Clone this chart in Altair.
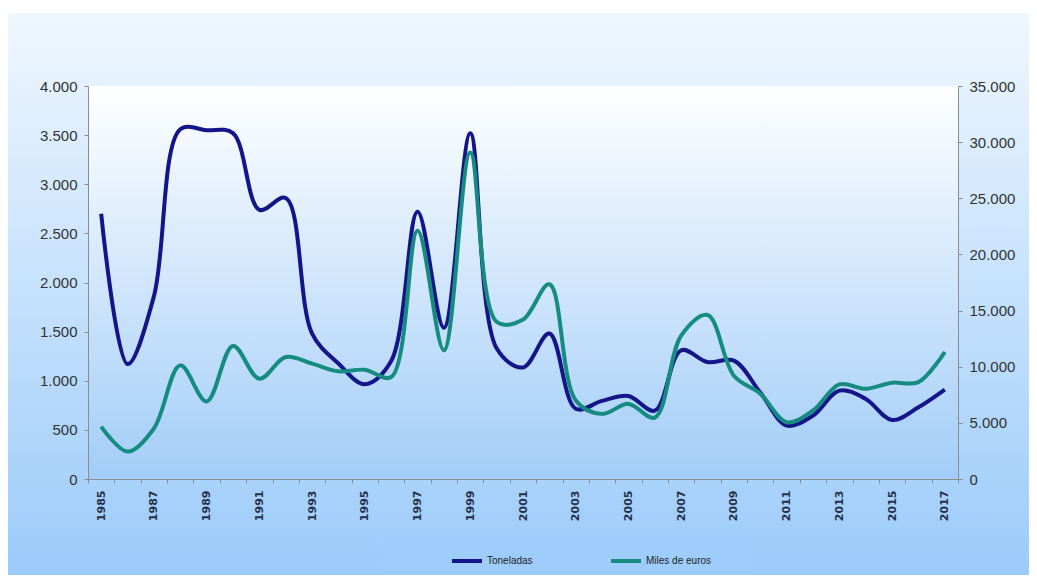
import altair as alt
import pandas as pd

# ---------------- data ----------------
years = list(range(1985, 2018))
toneladas = [2700, 1170, 1860, 3560, 3550, 3520, 2740, 2860, 1480, 1175, 965,
             1200, 2720, 1540, 3520, 1330, 1135, 1480, 715, 795, 845, 695,
             1310, 1190, 1205, 880, 545, 645, 900, 815, 600, 730, 910]
miles_euros = [4670, 2440, 4500, 10120, 6910, 11850, 8930, 10860, 10270, 9590,
               9730, 9080, 22110, 11460, 29080, 14000, 14200, 17350, 7000, 5800,
               6690, 5470, 12770, 14600, 9200, 7600, 5060, 6100, 8420, 8040,
               8570, 8630, 11310]
series_names = ["Toneladas", "Miles de euros"]
series_colors = ["#15158a", "#168b80"]
left_ticks = list(range(0, 4001, 500))
right_ticks = list(range(0, 35001, 5000))
label_years = [y for y in years if y % 2 == 1]
tick_bounds = [y - 0.5 for y in years] + [years[-1] + 0.5]

df = pd.DataFrame({"year": years, "ton": toneladas, "eur": miles_euros})
one = pd.DataFrame({"a": [0]})

W, H = 870, 393
PAD = {"left": 80, "top": 78, "right": 71, "bottom": 96}

NARROW = "Liberation Sans Narrow, Arial Narrow, Liberation Sans, Arial, sans-serif"
AXC = "#8c8c8c"
num_expr = "replace(format(datum.value, ','), ',', '.')"

outer_grad = alt.LinearGradient(
    gradient="linear",
    stops=[alt.GradientStop(color="#eff7ff", offset=0),
           alt.GradientStop(color="#9bcbfa", offset=1)],
    x1=0, x2=0, y1=0, y2=1)
plot_grad = alt.LinearGradient(
    gradient="linear",
    stops=[alt.GradientStop(color="#ffffff", offset=0),
           alt.GradientStop(color="#a2cdf8", offset=1)],
    x1=0, x2=0, y1=0, y2=1)

outer_bg = alt.Chart(one).mark_rect(color=outer_grad).encode(
    x=alt.value(-82), x2=alt.value(W + PAD["right"]),
    y=alt.value(-73), y2=alt.value(H + PAD["bottom"]))

plot_bg = alt.Chart(one).mark_rect(color=plot_grad).encode(
    x=alt.value(0), x2=alt.value("width"),
    y=alt.value(0), y2=alt.value("height"))

legend_box = alt.Chart(one).mark_rect(color="#9ecdfb").encode(
    x=alt.value(292), x2=alt.value(663),
    y=alt.value(452), y2=alt.value(485))

color_scale = alt.Scale(domain=series_names, range=series_colors)
legend = alt.Legend(
    orient="none", legendX=362, legendY=458, direction="horizontal",
    title=None, symbolType="stroke", symbolSize=900, symbolStrokeWidth=4,
    labelFont=NARROW, labelFontSize=10, labelColor="#222222",
    labelOffset=3, columnPadding=70, padding=0, zindex=1)

x_axis = alt.Axis(
    values=label_years + tick_bounds,
    labelExpr="datum.value % 1 == 0 ? toString(datum.value) : ''",
    labelAngle=270, labelFont="DejaVu Sans", labelFontSize=11,
    labelFontWeight="bold",
    labelColor="#26304a", labelOverlap=False, labelPadding=7,
    labelFlush=False, labelBound=False,
    tickSize=4, tickColor=AXC,
    tickOpacity={"condition": {"test": "datum.value % 1 == 0", "value": 0},
                 "value": 1},
    domainColor=AXC, grid=False, title=None, zindex=1)
x_scale = alt.Scale(domain=[1984.5, 2017.5], nice=False, zero=False)

line_ton = alt.Chart(df).transform_calculate(serie="'Toneladas'").mark_line(
    interpolate="catmull-rom", strokeWidth=4).encode(
    x=alt.X("year:Q", scale=x_scale, axis=x_axis),
    y=alt.Y("ton:Q", scale=alt.Scale(domain=[0, 4000], nice=False),
            axis=alt.Axis(values=left_ticks, labelExpr=num_expr, orient="left",
                          labelFont=NARROW, labelFontSize=15, labelColor="#333333",
                          tickSize=4, tickColor=AXC, domainColor=AXC, grid=False,
                          title=None, labelPadding=7, zindex=1)),
    color=alt.Color("serie:N", scale=color_scale, legend=legend))

line_eur = alt.Chart(df).transform_calculate(serie="'Miles de euros'").mark_line(
    interpolate="catmull-rom", strokeWidth=4).encode(
    x=alt.X("year:Q", scale=x_scale, axis=x_axis),
    y=alt.Y("eur:Q", scale=alt.Scale(domain=[0, 35000], nice=False),
            axis=alt.Axis(values=right_ticks, labelExpr=num_expr, orient="right",
                          labelFont=NARROW, labelFontSize=15, labelColor="#333333",
                          tickSize=4, tickColor=AXC, domainColor=AXC, grid=False,
                          title=None, labelPadding=7, zindex=1)),
    color=alt.Color("serie:N", scale=color_scale, legend=legend))

chart = alt.layer(outer_bg, plot_bg, legend_box, line_ton, line_eur).resolve_scale(
    y="independent").properties(
    width=W, height=H, padding=PAD,
    autosize=alt.AutoSizeParams(type="none"),
    background="#ffffff").configure_view(stroke=None)

chart.save("out.html", embed_options={"renderer": "svg", "actions": False})
